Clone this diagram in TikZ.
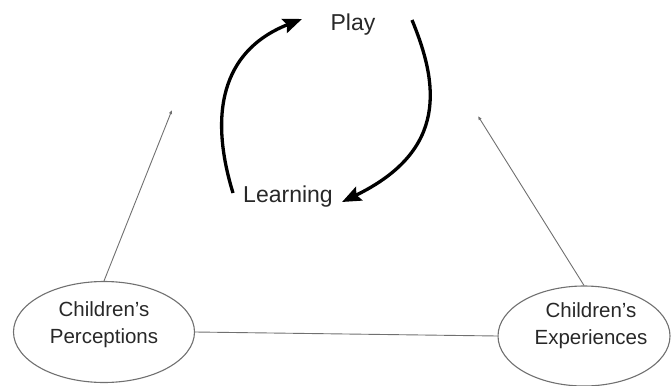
\documentclass[tikz,border=0pt]{standalone}
\usepackage{fontspec}
\setmainfont{Liberation Sans}
\usetikzlibrary{arrows.meta,shapes.geometric}
\definecolor{linegray}{RGB}{112,112,112}
\definecolor{textgray}{RGB}{40,40,40}
\begin{document}
\begin{tikzpicture}[x=1pt,y=-1pt,
    oval/.style={draw=linegray,line width=1.1pt,ellipse,inner sep=0pt},
    word/.style={text=textgray,font=\fontsize{23}{27}\selectfont},
    oval text/.style={text=textgray,align=center,font=\fontsize{20.5}{27}\selectfont},
    cycle arrow/.style={line width=3.3pt,-{Stealth[length=19pt,width=15pt,inset=3pt]}},
    thin link/.style={draw=linegray,line width=0.9pt,-{Latex[length=4pt,width=3.5pt]}}]
  \useasboundingbox (0,0) rectangle (671,385);
  % play / learning cycle
  \node[word] (play) at (353,25) {Play};
  \node[word] (learn) at (288,197) {Learning};
  \coordinate (learnout) at (233,193);
  \coordinate (playin) at (302,19);
  \coordinate (playout) at (412,20);
  \coordinate (learnin) at (342,202);
  \draw[cycle arrow] (learnout) .. controls (206,105) and (228,48) .. (playin);
  \draw[cycle arrow] (playout) .. controls (438,83) and (449,150) .. (learnin);
  % the two ovals
  \node[oval,minimum width=181pt,minimum height=101pt] (perc) at (104,332) {};
  \node[oval text] at (104,325) {Children's\\Perceptions};
  \node[oval,minimum width=172pt,minimum height=100pt] (exper) at (584,336) {};
  \node[oval text] at (591,326) {Children's\\Experiences};
  \coordinate (leftend) at (172,110);
  \coordinate (rightend) at (478,116);
  \draw[thin link] (perc.north) -- (leftend);
  \draw[thin link] (exper.north) -- (rightend);
  \draw[draw=linegray,line width=0.9pt] (perc.east) -- (exper.west);
\end{tikzpicture}
\end{document}
